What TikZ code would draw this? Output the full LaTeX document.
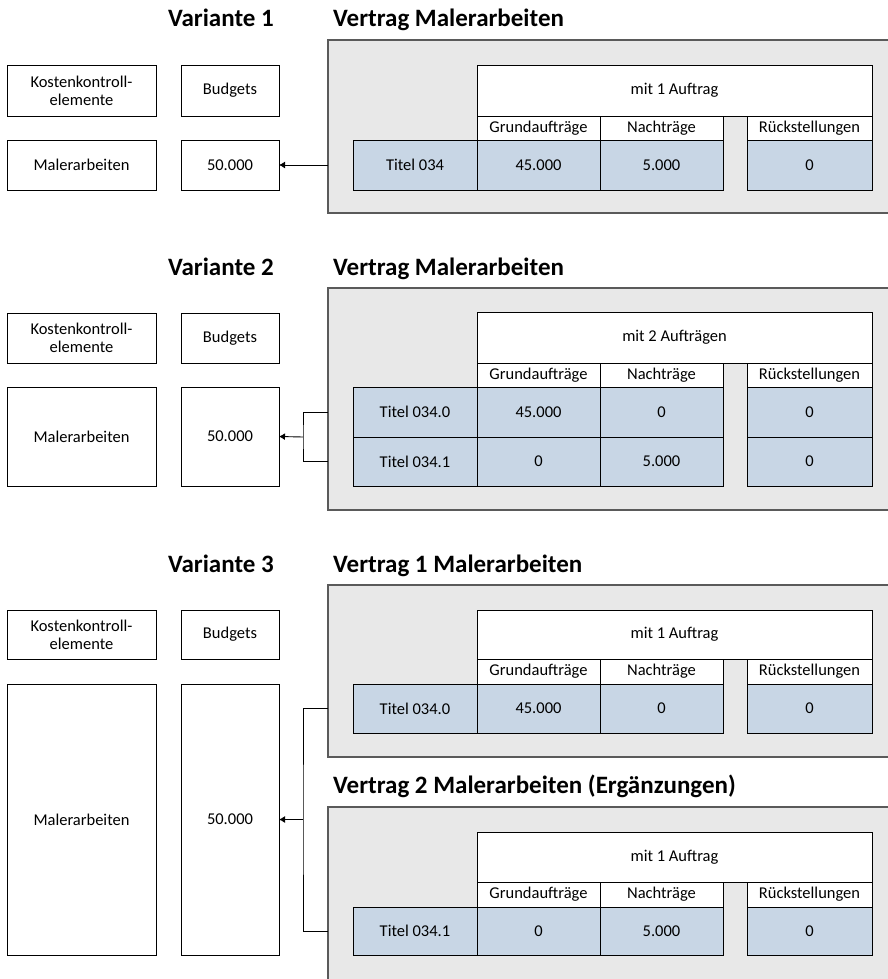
\documentclass[tikz,border=0pt]{standalone}
\usepackage{fontspec}
\setmainfont{Carlito}
\usetikzlibrary{arrows.meta}
\definecolor{kastengrau}{RGB}{232,232,232}
\definecolor{randgrau}{RGB}{90,90,90}
\definecolor{zellblau}{RGB}{200,214,229}
\newcommand\zellschrift{\fontsize{16.5}{18}\selectfont}
\newcommand\titelschrift{\fontsize{25}{29}\selectfont\bfseries}
\newcommand\cellnode[7]{\node[#6, minimum width={(#4-#2)*1pt}, minimum height={(#5-#3)*1pt}] (#1) at ({(#2+#4)/2},{(#3+#5)/2}) {#7};}

\begin{document}
\begin{tikzpicture}[x=1pt, y=-1pt,
    zelle/.style={draw=black, line width=0.9pt, fill=white, inner sep=0pt, outer sep=0pt, font=\zellschrift, align=center},
    blau/.style={zelle, fill=zellblau},
    rahmen/.style={draw=randgrau, line width=1.4pt, fill=kastengrau, inner sep=0pt, outer sep=0pt},
    titel/.style={font=\titelschrift, inner sep=0pt},
    linie/.style={line width=0.9pt, draw=black},
    pfeil/.style={linie, -{Latex[length=6pt,width=7pt]}}]
    \useasboundingbox (0,0) rectangle (887,979);

    % Variante 1
    \node[titel, anchor=base] (va1) at (221,27) {Variante 1};
    \node[titel, anchor=base west] (ve1) at (333,27) {Vertrag Malerarbeiten};
    \cellnode{kk1}{7}{65}{156}{116}{zelle}{Kostenkontroll-\\elemente}
    \cellnode{bu1}{181}{65}{279}{116}{zelle}{Budgets}
    \cellnode{ma1}{7}{140}{156}{190}{zelle}{Malerarbeiten}
    \cellnode{be1}{181}{140}{279}{190}{zelle}{50.000}
    \cellnode{rv1}{328}{40}{920}{213}{rahmen}{}
    \cellnode{au1}{477}{65}{872}{116}{zelle}{mit 1 Auftrag}
    \cellnode{gr1}{477}{116}{600}{140}{zelle}{Grundaufträge}
    \cellnode{na1}{600}{116}{723}{140}{zelle}{Nachträge}
    \cellnode{ru1}{747}{116}{872}{140}{zelle}{Rückstellungen}
    \cellnode{ti1}{353}{140}{477}{190}{blau}{Titel 034}
    \cellnode{gw1}{477}{140}{600}{190}{blau}{45.000}
    \cellnode{nw1}{600}{140}{723}{190}{blau}{5.000}
    \cellnode{rw1}{747}{140}{872}{190}{blau}{0}
    \draw[pfeil] (rv1.west |- be1.east) -- (be1.east);

    % Variante 2
    \node[titel, anchor=base] (va2) at (221,275) {Variante 2};
    \node[titel, anchor=base west] (ve2) at (333,275) {Vertrag Malerarbeiten};
    \cellnode{kk2}{7}{313}{156}{363}{zelle}{Kostenkontroll-\\elemente}
    \cellnode{bu2}{181}{313}{279}{363}{zelle}{Budgets}
    \cellnode{ma2}{7}{387}{156}{486}{zelle}{Malerarbeiten}
    \cellnode{be2}{181}{387}{279}{486}{zelle}{50.000}
    \cellnode{rv2}{328}{288}{920}{510}{rahmen}{}
    \cellnode{au2}{477}{312}{872}{363}{zelle}{mit 2 Aufträgen}
    \cellnode{gr2}{477}{363}{600}{387}{zelle}{Grundaufträge}
    \cellnode{na2}{600}{363}{723}{387}{zelle}{Nachträge}
    \cellnode{ru2}{747}{363}{872}{387}{zelle}{Rückstellungen}
    \cellnode{ti20}{353}{387}{477}{437}{blau}{Titel 034.0}
    \cellnode{gw20}{477}{387}{600}{437}{blau}{45.000}
    \cellnode{nw20}{600}{387}{723}{437}{blau}{0}
    \cellnode{rw20}{747}{387}{872}{437}{blau}{0}
    \cellnode{ti21}{353}{437}{477}{486}{blau}{Titel 034.1}
    \cellnode{gw21}{477}{437}{600}{486}{blau}{0}
    \cellnode{nw21}{600}{437}{723}{486}{blau}{5.000}
    \cellnode{rw21}{747}{437}{872}{486}{blau}{0}
    \coordinate (kn2) at (303,437);
    \draw[linie] (rv2.west |- ti20) -| (kn2) |- (rv2.west |- ti21);
    \draw[pfeil] (kn2) -- (be2.east);

    % Variante 3
    \node[titel, anchor=base] (va3) at (221,572) {Variante 3};
    \node[titel, anchor=base west] (ve3) at (333,572) {Vertrag 1 Malerarbeiten};
    \cellnode{kk3}{7}{610}{156}{659}{zelle}{Kostenkontroll-\\elemente}
    \cellnode{bu3}{181}{610}{279}{659}{zelle}{Budgets}
    \cellnode{ma3}{7}{684}{156}{955}{zelle}{Malerarbeiten}
    \cellnode{be3}{181}{684}{279}{955}{zelle}{50.000}
    \cellnode{rv3}{328}{585}{920}{757}{rahmen}{}
    \cellnode{au3}{477}{610}{872}{659}{zelle}{mit 1 Auftrag}
    \cellnode{gr3}{477}{659}{600}{684}{zelle}{Grundaufträge}
    \cellnode{na3}{600}{659}{723}{684}{zelle}{Nachträge}
    \cellnode{ru3}{747}{659}{872}{684}{zelle}{Rückstellungen}
    \cellnode{ti3}{353}{684}{477}{733}{blau}{Titel 034.0}
    \cellnode{gw3}{477}{684}{600}{733}{blau}{45.000}
    \cellnode{nw3}{600}{684}{723}{733}{blau}{0}
    \cellnode{rw3}{747}{684}{872}{733}{blau}{0}

    \node[titel, anchor=base west] (ve4) at (333,793) {Vertrag 2 Malerarbeiten (Ergänzungen)};
    \cellnode{rv4}{328}{807}{920}{1000}{rahmen}{}
    \cellnode{au4}{477}{832}{872}{882}{zelle}{mit 1 Auftrag}
    \cellnode{gr4}{477}{882}{600}{907}{zelle}{Grundaufträge}
    \cellnode{na4}{600}{882}{723}{907}{zelle}{Nachträge}
    \cellnode{ru4}{747}{882}{872}{907}{zelle}{Rückstellungen}
    \cellnode{ti4}{353}{907}{477}{955}{blau}{Titel 034.1}
    \cellnode{gw4}{477}{907}{600}{955}{blau}{0}
    \cellnode{nw4}{600}{907}{723}{955}{blau}{5.000}
    \cellnode{rw4}{747}{907}{872}{955}{blau}{0}
    \coordinate (kn3) at ([xshift=24pt]be3.east);
    \draw[linie] (rv3.west |- ti3) -| (kn3) |- (rv4.west |- ti4);
    \draw[pfeil] (kn3) -- (be3.east);
\end{tikzpicture}
\end{document}
